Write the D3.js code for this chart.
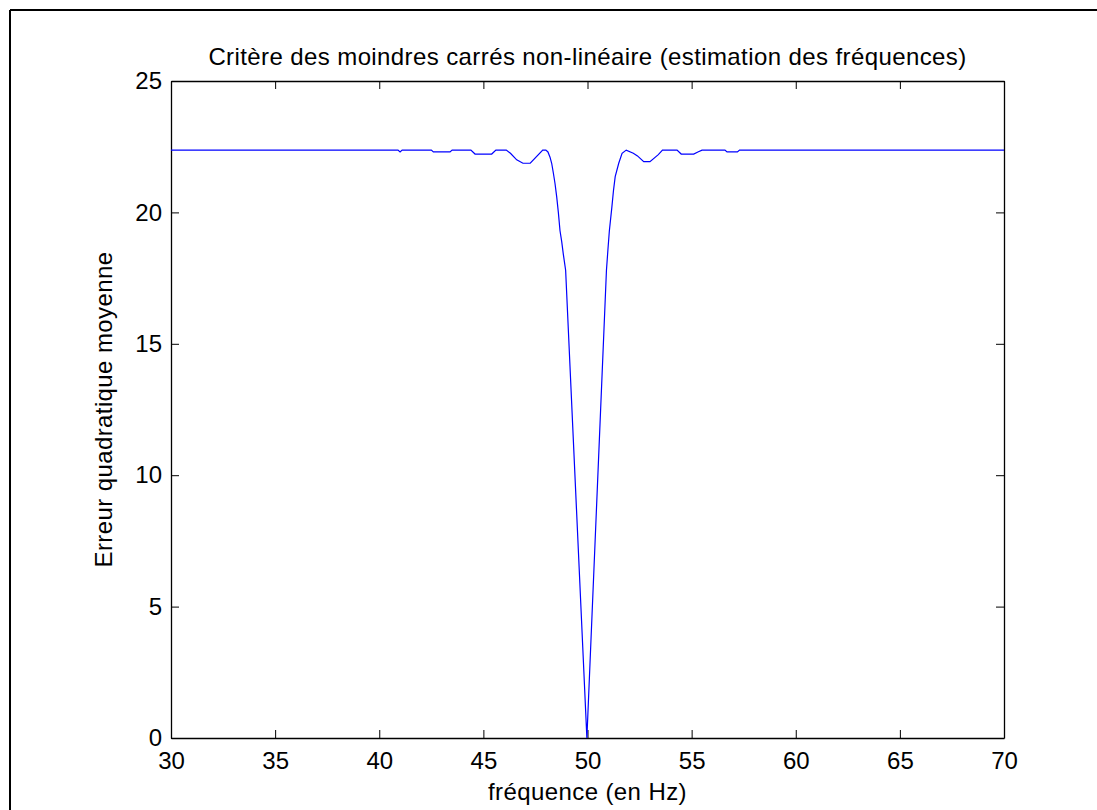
<!DOCTYPE html>
<html>
<head>
<meta charset="utf-8">
<script src="https://cdn.jsdelivr.net/npm/d3@7"></script>
<style>
  html, body { margin: 0; padding: 0; background: #fff; }
  svg { display: block; }
  text { font-family: Arial, "Liberation Sans", Helvetica, sans-serif; fill: #000; }
</style>
</head>
<body>
<svg id="chart" width="1097" height="810"></svg>
<script>
// ---- data ----
const title = "Critère des moindres carrés non-linéaire (estimation des fréquences)";
const xLabel = "fréquence (en Hz)";
const yLabel = "Erreur quadratique moyenne";
const xTicks = [30, 35, 40, 45, 50, 55, 60, 65, 70];
const yTicks = [0, 5, 10, 15, 20, 25];
const freq = [30, 40.9, 41.0, 41.1, 42.5, 42.6, 43.4, 43.5, 44.4, 44.6, 45.4, 45.6, 46.1, 46.3, 46.6, 46.9, 47.25, 47.85, 48.0,
  48.1, 48.2, 48.28, 48.36, 48.44, 48.52, 48.6, 48.68, 48.76, 48.84, 48.95, 49.97,
  50.91, 50.98, 51.05, 51.17, 51.25, 51.33, 51.5, 51.66, 51.86, 52.2, 52.4, 52.7, 53.0, 53.4, 53.6, 54.3, 54.5, 55.1, 55.3, 55.5,
  56.6, 56.7, 57.2, 57.3, 70];
const err = [22.37, 22.37, 22.30, 22.37, 22.37, 22.30, 22.30, 22.37, 22.37, 22.22, 22.22, 22.37, 22.37, 22.25, 22.0, 21.87, 21.87, 22.37, 22.37,
  22.3, 22.1, 21.87, 21.5, 21.1, 20.6, 20.0, 19.3, 18.9, 18.4, 17.8, 0,
  17.8, 18.57, 19.3, 20.2, 20.85, 21.36, 21.87, 22.25, 22.37, 22.25, 22.15, 21.93, 21.93, 22.2, 22.37, 22.37, 22.22, 22.22, 22.3, 22.37,
  22.37, 22.3, 22.3, 22.37, 22.37];

(function () {
  const svg = d3.select("#chart");
  const mL = 171, mR = 1004, mT = 81, mB = 738;
  const fontSize = 24;
  const spacing = 0.4;
  const tickLen = 8;

  const x = d3.scaleLinear().domain([30, 70]).range([mL, mR]);
  const y = d3.scaleLinear().domain([0, 25]).range([mB, mT]);

  // outer frame (top and left edges of the figure window)
  svg.append("line").attr("x1", 10).attr("y1", 10).attr("x2", 1097).attr("y2", 10)
    .attr("stroke", "#000").attr("stroke-width", 2);
  svg.append("line").attr("x1", 10).attr("y1", 10).attr("x2", 10).attr("y2", 810)
    .attr("stroke", "#000").attr("stroke-width", 2);

  // axes (MATLAB-style: ticks inside on all four sides)
  const axB = svg.append("g").attr("transform", `translate(0,${mB})`)
    .call(d3.axisBottom(x).tickValues(xTicks).tickSize(-tickLen).tickPadding(14).tickSizeOuter(0));
  const axT = svg.append("g").attr("transform", `translate(0,${mT})`)
    .call(d3.axisTop(x).tickValues(xTicks).tickSize(-tickLen).tickFormat("").tickSizeOuter(0));
  const axL = svg.append("g").attr("transform", `translate(${mL},0)`)
    .call(d3.axisLeft(y).tickValues(yTicks).tickSize(-tickLen).tickPadding(9).tickSizeOuter(0));
  const axR = svg.append("g").attr("transform", `translate(${mR},0)`)
    .call(d3.axisRight(y).tickValues(yTicks).tickSize(-tickLen).tickFormat("").tickSizeOuter(0));

  [axB, axT, axL, axR].forEach(g => {
    g.selectAll(".domain").attr("stroke", "#000").attr("stroke-width", 1.3);
    g.selectAll(".tick line").attr("stroke", "#000").attr("stroke-width", 1);
    g.selectAll("text").attr("font-size", fontSize).attr("font-family", "Arial, 'Liberation Sans', sans-serif").attr("fill", "#000");
  });

  // data line
  const pts = freq.map((f, i) => [f, err[i]]);
  svg.append("path")
    .datum(pts)
    .attr("fill", "none")
    .attr("stroke", "#0000ff")
    .attr("stroke-width", 1.2)
    .attr("d", d3.line().x(d => x(d[0])).y(d => y(d[1])));

  // title and labels
  svg.append("text").attr("x", (mL + mR) / 2).attr("y", 65)
    .attr("text-anchor", "middle").attr("font-size", fontSize).attr("letter-spacing", spacing).text(title);
  svg.append("text").attr("x", (mL + mR) / 2).attr("y", 800)
    .attr("text-anchor", "middle").attr("font-size", fontSize).attr("letter-spacing", spacing).text(xLabel);
  svg.append("text").attr("transform", `translate(112,${(mT + mB) / 2}) rotate(-90)`)
    .attr("text-anchor", "middle").attr("font-size", fontSize).attr("letter-spacing", spacing).text(yLabel);
})();
</script>
</body>
</html>
